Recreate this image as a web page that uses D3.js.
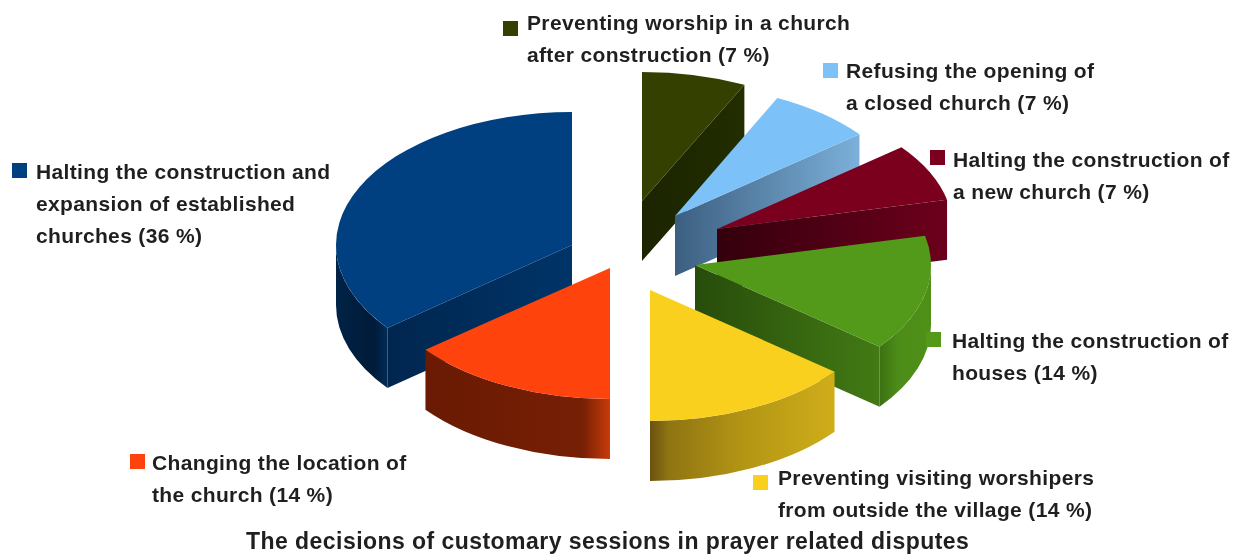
<!DOCTYPE html>
<html><head><meta charset="utf-8">
<script src="https://cdnjs.cloudflare.com/ajax/libs/d3/7.8.5/d3.min.js"></script>
<style>
html,body{margin:0;padding:0;background:#fff;overflow:hidden}
svg{display:block;filter:blur(0.45px)}
text{font-family:"Liberation Sans",Arial,sans-serif;font-weight:700;fill:#1f1f1f}
</style></head><body>
<script>
// Data: shares follow slice order clockwise from 12 o'clock
const categories = [
  "Preventing worship in a church|after construction",
  "Refusing the opening of|a closed church",
  "Halting the construction of|a new church",
  "Halting the construction of|houses",
  "Preventing visiting worshipers|from outside the village",
  "Changing the location of|the church",
  "Halting the construction and|expansion of established|churches"
];
const shares = [7.14, 7.14, 7.14, 14.29, 14.29, 14.29, 35.71];
const titleText = "The decisions of customary sessions in prayer related disputes";

// Styles
const topColors = ["#344000","#7cc2f8","#7a001e","#539a1a","#fad01e","#ff430d","#004080"];
const faceStops = [
  ["#1b2400","#222d00"],["#3c5f80","#7cb0da"],["#33000c","#6c001c"],
  ["#274c0b","#437a14"],["#000000","#000000"],["#000000","#000000"],["#00264f","#003468"]
];
const rimStops = [
  null,null,null,
  [[0,"#3d7012"],[0.35,"#4c8c18"],[1,"#4f9018"]],
  [[0,"#6a5210"],[0.1,"#8f7412"],[0.5,"#b39514"],[1,"#cfad1a"]],
  [[0,"#6a1a03"],[0.85,"#761f05"],[1,"#c83c0a"]],
  [[0,"#002347"],[0.6,"#001c3a"],[0.75,"#001c3a"],[1,"#002c58"]]
];

// Layout
const W = 1233, H = 555;
const rx = 236, depth = 60;
const sliceRy = [129, 131, 131, 131, 131, 131, 133];
const pieCenter = [640, 245];
const explodeOffsets = [[2,-44],[35,-29],[77,-16],[55,20],[10,45],[-30,23],[-68,0]];
const legendLayout = [
  {sx:503,sy:21,tx:527,ty:30},{sx:823,sy:63,tx:846,ty:78},{sx:930,sy:150,tx:953,ty:167},
  {sx:926,sy:332,tx:952,ty:348},{sx:753,sy:475,tx:778,ty:485},{sx:130,sy:454,tx:152,ty:470},
  {sx:12,sy:163,tx:36,ty:179}
];
const swatch = 15, lineGap = 32, fontSize = 21, tracking = 0.35, titleSize = 23, titleTracking = 0.45;

const svg = d3.select("body").append("svg").attr("width",W).attr("height",H);
const defs = svg.append("defs");
const arcs = d3.pie().sort(null).value(d=>d)(shares);
const arcGen = d3.arc().innerRadius(0).outerRadius(rx);

function addGradient(id, stops, x1, x2){
  const g = defs.append("linearGradient").attr("id",id).attr("gradientUnits","userSpaceOnUse")
    .attr("x1",x1).attr("x2",x2).attr("y1",0).attr("y2",0);
  stops.forEach(([o,c])=>g.append("stop").attr("offset",o).attr("stop-color",c));
}

// painter's order: the large back slice first, then clockwise
const paintOrder = [6,0,1,2,3,4,5];
paintOrder.forEach(i=>{
  const d = arcs[i], ry = sliceRy[i];
  const px = a => rx*Math.sin(a), py = a => -ry*Math.cos(a);
  const g = svg.append("g").attr("transform",`translate(${pieCenter[0]+explodeOffsets[i][0]},${pieCenter[1]+explodeOffsets[i][1]})`);
  // cut faces
  const cut = d.endAngle < Math.PI-0.02 ? d.endAngle : (d.startAngle > Math.PI+0.02 ? d.startAngle : null);
  if(cut!==null){
    const ex=px(cut), ey=py(cut);
    addGradient("face"+i,[[0,faceStops[i][0]],[1,faceStops[i][1]]],Math.min(0,ex),Math.max(0,ex));
    g.append("path").attr("fill",`url(#face${i})`)
      .attr("d",`M0,0L${ex},${ey}L${ex},${ey+depth}L0,${depth}Z`);
  }
  // outer rim
  const a0=Math.max(d.startAngle,Math.PI/2), a1=Math.min(d.endAngle,Math.PI*3/2);
  if(a1>a0){
    const xs=[px(a0),px(a1)];
    addGradient("rim"+i,rimStops[i]||[[0,topColors[i]],[1,topColors[i]]],Math.min(...xs),Math.max(...xs));
    g.append("path").attr("fill",`url(#rim${i})`)
      .attr("d",`M${px(a0)},${py(a0)}A${rx},${ry} 0 0 1 ${px(a1)},${py(a1)}`+
                `L${px(a1)},${py(a1)+depth}A${rx},${ry} 0 0 0 ${px(a0)},${py(a0)+depth}Z`);
  }
  // top
  g.append("path").attr("transform",`scale(1,${ry/rx})`).attr("d",arcGen(d)).attr("fill",topColors[i]);
});

// Legend
categories.forEach((c,i)=>{
  const L = legendLayout[i];
  svg.append("rect").attr("x",L.sx).attr("y",L.sy).attr("width",swatch).attr("height",swatch).attr("fill",topColors[i]);
  const lines = c.split("|");
  lines.forEach((t,j)=>{
    const label = j===lines.length-1 ? `${t} (${Math.round(shares[i])} %)` : t;
    svg.append("text").attr("x",L.tx).attr("y",L.ty+j*lineGap).attr("font-size",fontSize)
      .attr("letter-spacing",tracking).text(label);
  });
});
svg.append("text").attr("x",246).attr("y",549).attr("font-size",titleSize).attr("letter-spacing",titleTracking).text(titleText);
</script>
</body></html>
